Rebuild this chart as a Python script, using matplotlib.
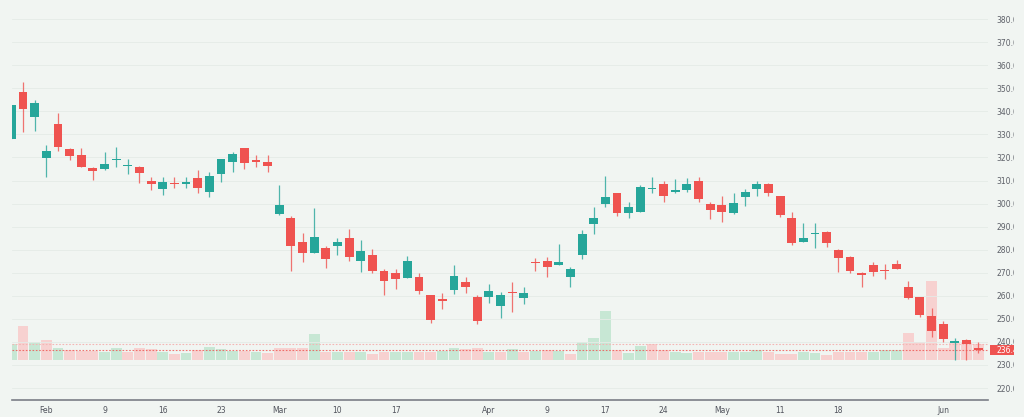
import numpy as np
import matplotlib
matplotlib.use("Agg")
import matplotlib.pyplot as plt
from matplotlib.patches import Rectangle
from matplotlib.transforms import blended_transform_factory

# daily OHLC, first trading days of Feb through early Jun
opens = [328.0, 348.5, 337.7, 319.6, 334.4, 323.5, 321.0, 315.3, 314.8, 318.9,
         316.1, 316.0, 309.9, 306.3, 309.0, 308.5, 310.9, 305.1, 312.8, 317.9,
         323.9, 318.9, 318.0, 295.5, 293.9, 283.2, 278.7, 280.6, 281.6, 284.9,
         275.2, 277.7, 270.9, 269.7, 267.7, 268.3, 260.5, 258.7, 262.5, 266.1,
         259.6, 259.3, 255.6, 261.6, 259.0, 274.6, 275.2, 273.5, 268.3, 277.5,
         291.0, 299.8, 304.4, 295.8, 296.5, 306.3, 308.5, 305.0, 305.9, 309.9,
         299.8, 299.4, 295.8, 302.7, 306.3, 308.3, 303.3, 293.6, 283.3, 286.7,
         287.8, 279.8, 276.7, 269.7, 273.2, 271.3, 273.8, 263.7, 259.3, 251.2,
         247.8, 239.4, 240.8, 237.2]
highs = [342.9, 352.8, 344.9, 325.4, 339.1, 323.9, 323.9, 316.0, 322.3, 324.6,
         319.2, 316.2, 311.4, 311.6, 311.6, 311.4, 314.5, 313.8, 319.5, 322.5,
         324.0, 321.0, 321.0, 308.0, 294.6, 287.1, 298.2, 281.6, 284.9, 288.8,
         284.2, 280.1, 271.5, 271.5, 277.2, 269.7, 260.5, 261.3, 273.3, 268.0,
         260.3, 265.0, 261.8, 266.1, 263.7, 276.5, 276.7, 282.3, 272.3, 288.5,
         298.4, 311.9, 304.6, 300.8, 308.0, 311.4, 309.9, 310.5, 310.9, 311.4,
         300.7, 303.3, 304.4, 306.3, 309.9, 309.0, 303.5, 296.2, 291.4, 291.4,
         288.1, 280.3, 277.4, 270.4, 274.8, 273.8, 275.5, 266.5, 259.5, 254.6,
         249.2, 241.6, 241.1, 240.1]
lows = [327.9, 330.9, 331.4, 311.6, 322.9, 318.9, 315.7, 310.2, 314.5, 316.0,
        312.7, 308.8, 305.9, 303.7, 306.9, 306.6, 304.7, 302.7, 309.5, 313.5,
        314.8, 316.0, 313.5, 294.9, 270.9, 274.8, 278.4, 272.2, 277.7, 275.2,
        270.4, 269.7, 260.3, 262.9, 267.7, 260.8, 248.3, 254.1, 260.8, 261.1,
        247.6, 256.7, 250.2, 253.1, 256.3, 270.7, 268.0, 273.2, 263.7, 275.9,
        286.8, 298.6, 294.6, 293.9, 296.3, 304.7, 300.8, 304.7, 305.1, 300.7,
        293.4, 292.1, 295.5, 299.1, 303.3, 303.3, 294.0, 281.9, 283.3, 280.7,
        281.0, 270.4, 269.7, 263.9, 268.7, 267.1, 271.7, 258.6, 250.7, 242.2,
        240.1, 232.1, 232.1, 235.3]
closes = [342.7, 341.1, 343.5, 322.8, 324.4, 320.6, 316.0, 314.0, 317.1, 319.3,
          316.5, 313.4, 308.5, 309.5, 308.6, 309.5, 306.6, 311.9, 319.3, 321.5,
          317.4, 318.0, 316.3, 299.4, 281.6, 278.7, 285.6, 275.9, 283.4, 276.7,
          279.4, 270.7, 266.3, 267.3, 274.9, 262.1, 249.5, 257.9, 268.7, 263.7,
          249.2, 262.2, 260.3, 261.2, 261.1, 274.4, 272.3, 274.6, 271.5, 286.8,
          293.6, 303.0, 296.0, 298.6, 307.3, 306.9, 303.3, 305.7, 308.5, 302.0,
          297.2, 296.5, 300.1, 305.1, 308.5, 304.7, 295.0, 283.0, 284.9, 287.1,
          282.7, 276.5, 270.9, 268.9, 270.2, 270.6, 271.7, 259.0, 251.7, 244.8,
          241.1, 240.3, 239.0, 236.4]
# volume, millions of shares
volumes = [8.0, 17.2, 9.2, 9.8, 5.8, 4.8, 4.5, 4.5, 4.2, 6.2,
           4.0, 5.8, 5.4, 4.2, 3.2, 3.7, 5.0, 6.5, 5.5, 4.3,
           4.3, 4.2, 3.7, 6.2, 6.2, 5.8, 12.8, 4.2, 4.2, 4.2,
           4.2, 3.2, 4.2, 4.2, 4.2, 3.8, 4.2, 4.7, 5.8, 5.4,
           6.2, 4.2, 4.2, 5.4, 4.2, 4.7, 5.0, 4.7, 3.2, 9.2,
           10.8, 24.5, 4.8, 3.7, 7.0, 8.2, 4.8, 4.2, 3.7, 4.2,
           4.2, 4.2, 4.2, 3.8, 4.8, 3.8, 3.2, 3.2, 4.2, 3.7,
           2.5, 3.8, 3.8, 3.8, 4.2, 4.8, 4.8, 13.3, 9.2, 39.5,
           6.2, 9.2, 9.2, 7.8]

tick_pos = [3, 8, 13, 18, 23, 28, 33, 41, 46, 51, 56, 61, 66, 71, 80]
tick_labels = ['Feb', '9', '16', '23', 'Mar', '10', '17', 'Apr', '9', '17',
               '24', 'May', '11', '18', 'Jun']
price_ticks = np.arange(220, 381, 10)

bg = '#f1f5f2'
up = '#26a69a'
down = '#ef5350'
vol_up = '#c7e7d4'
vol_down = '#f7d1d0'

o = np.array(opens)
h = np.array(highs)
l = np.array(lows)
c = np.array(closes)
v = np.array(volumes)
x = np.arange(len(c))

fig = plt.figure(figsize=(10.24, 4.17), dpi=100, facecolor=bg)
rect = [11.7 / 1024, 17 / 417, 976.3 / 1024, 400 / 417]

# volume pane behind the candles
axv = fig.add_axes(rect, facecolor=bg)
ax = fig.add_axes(rect, sharex=axv)
ax.patch.set_visible(False)

prev = np.r_[c[0] - 1, c[:-1]]
vcol = np.where(c >= prev, vol_up, vol_down)
axv.bar(x, v, width=0.93, color=vcol, linewidth=0)
axv.set_ylim(-20, 180)
axv.set_yticks([])
axv.tick_params(axis='x', length=0, labelbottom=False)
for s in axv.spines.values():
    s.set_visible(False)

# candles
green = c >= o
col = np.where(green, up, down)
body_lo = np.minimum(o, c)
body_h = np.maximum(np.abs(c - o), 0.45)
ax.vlines(x, l, h, colors=col, linewidth=0.9, alpha=0.8, zorder=3)
ax.bar(x, body_h, bottom=body_lo, width=0.76, color=col, linewidth=0, zorder=4)

# last price and previous close lines
ax.axhline(c[-2], color='#f4b5b4', linestyle=(0, (1.5, 1.5)), linewidth=0.8, zorder=2)
ax.axhline(c[-1], color=down, linestyle=(0, (1.5, 1.5)), linewidth=0.8, alpha=0.8, zorder=2)

for p in price_ticks:
    ax.axhline(p, color='#e5ebe7', linewidth=0.6, zorder=0)

ax.set_xlim(0.03, 83.85)
ax.set_ylim(214.8, 388.3)

ax.yaxis.tick_right()
ax.set_yticks(price_ticks)
ax.set_yticklabels(['%.2f' % p for p in price_ticks])
ax.tick_params(axis='y', length=0, pad=5.8, labelsize=5.5, labelcolor='#5d6068')
ax.set_xticks(tick_pos)
ax.set_xticklabels(tick_labels)
ax.tick_params(axis='x', length=0, pad=4, labelsize=5.5, labelcolor='#50535c')
for name, s in ax.spines.items():
    s.set_visible(name == 'bottom')
ax.spines['bottom'].set_color('#7b7e87')
ax.spines['bottom'].set_linewidth(1.2)

# last price tag on the scale
tr = blended_transform_factory(ax.transAxes, ax.transData)
ax.add_patch(Rectangle((1.0018, c[-1] - 2.2), 0.04, 4.4, transform=tr,
                       facecolor=down, edgecolor='none', clip_on=False, zorder=6))
ax.text(1.0082, c[-1], '%.2f' % c[-1], transform=tr, ha='left', va='center',
        fontsize=5.5, color='white', clip_on=False, zorder=7)

# the price scale is cut off at its right side
fig.add_artist(Rectangle((1014 / 1024, 0), 10 / 1024, 1, transform=fig.transFigure,
                         facecolor=bg, edgecolor='none', zorder=20))

fig.savefig('out.png', dpi=100, facecolor=bg)
